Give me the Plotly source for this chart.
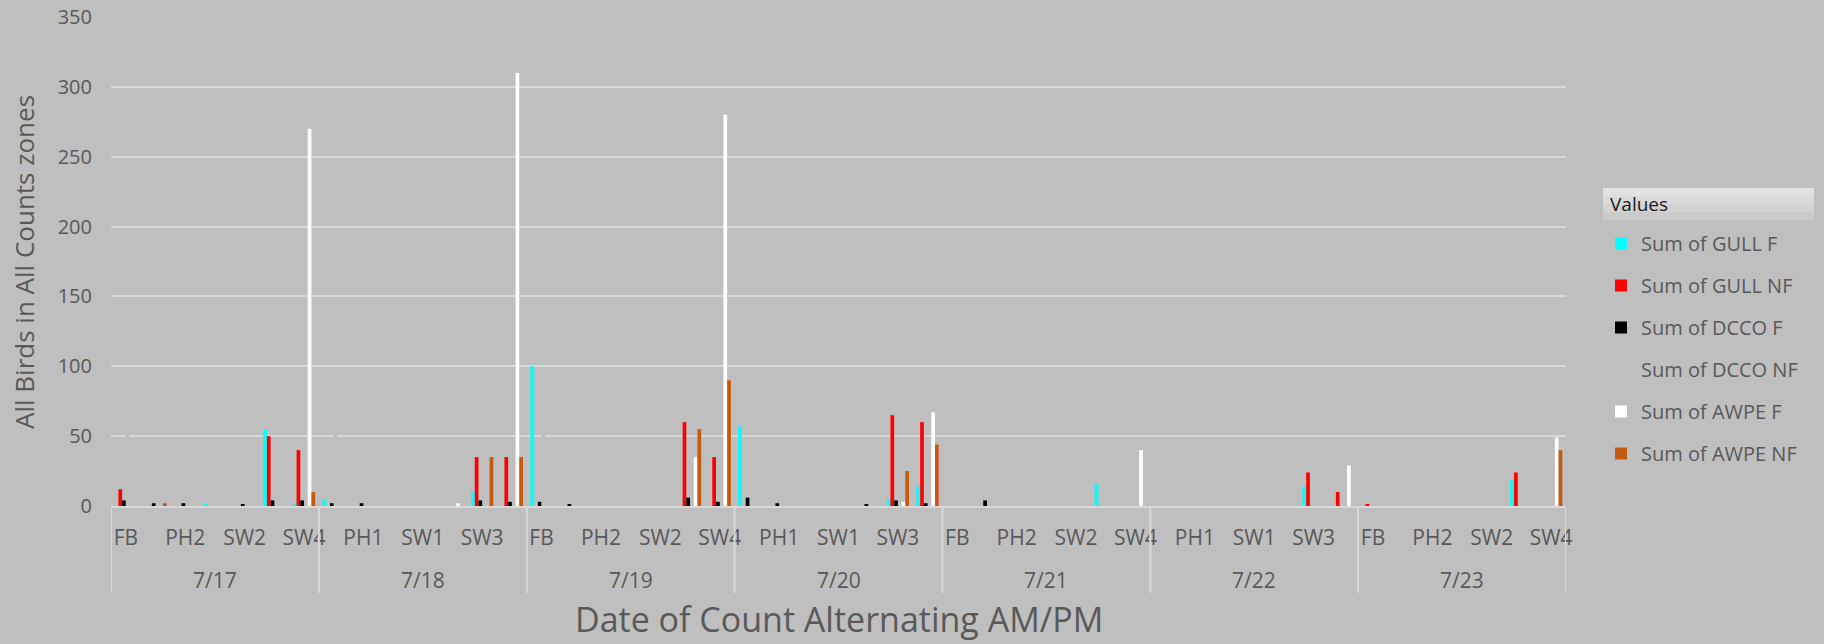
import plotly.graph_objects as go

dates = ["7/17", "7/18", "7/19", "7/20", "7/21", "7/22", "7/23"]
zones = ["FB", "PH1", "PH2", "SW1", "SW2", "SW3", "SW4"]

# one value per (date, zone), in date-major order (49 categories)
gull_f = [0, 0, 0, 1, 0, 55, 2,
          5, 0, 0, 0, 0, 10, 0,
          100, 0, 0, 0, 0, 0, 0,
          57, 0, 0, 0, 0, 5, 14,
          0, 0, 0, 0, 0, 16, 0,
          0, 0, 0, 0, 0, 14, 0,
          0, 0, 0, 0, 0, 19, 0]
gull_nf = [12, 0, 0, 0, 0, 50, 40,
           0, 0, 0, 0, 0, 35, 35,
           0, 0, 0, 0, 0, 60, 35,
           0, 0, 0, 0, 0, 65, 60,
           0, 0, 0, 0, 0, 0, 0,
           0, 0, 0, 0, 0, 24, 10,
           1, 0, 0, 0, 0, 24, 0]
dcco_f = [4, 2, 2, 0, 1, 4, 4,
          2, 2, 0, 0, 0, 4, 3,
          3, 1, 0, 0, 0, 6, 3,
          6, 2, 0, 0, 1, 4, 2,
          0, 4, 0, 0, 0, 0, 0,
          0, 0, 0, 0, 0, 0, 0,
          0, 0, 0, 0, 0, 0, 0]
dcco_nf = [60, 0, 0, 0, 0, 0, 0,
           55, 0, 0, 0, 0, 0, 0,
           55, 0, 0, 0, 0, 0, 0,
           0, 0, 0, 0, 0, 0, 0,
           0, 0, 0, 0, 0, 0, 0,
           0, 0, 0, 0, 0, 0, 0,
           0, 0, 0, 0, 0, 0, 0]
awpe_f = [0, 0, 0, 0, 0, 0, 270,
          0, 0, 0, 0, 2, 0, 310,
          0, 0, 0, 0, 0, 35, 280,
          0, 0, 0, 0, 0, 3, 67,
          0, 0, 0, 0, 0, 0, 40,
          0, 0, 0, 0, 0, 0, 29,
          0, 0, 0, 0, 0, 0, 49]
awpe_nf = [0, 2, 0, 0, 0, 0, 10,
           0, 0, 0, 0, 0, 35, 35,
           0, 0, 0, 0, 0, 55, 90,
           0, 0, 0, 0, 0, 25, 44,
           0, 0, 0, 0, 0, 0, 0,
           0, 0, 0, 0, 0, 0, 0,
           0, 0, 0, 0, 0, 0, 40]

series_names = ["Sum of GULL F", "Sum of GULL NF", "Sum of DCCO F",
                "Sum of DCCO NF", "Sum of AWPE F", "Sum of AWPE NF"]
series_vals = [gull_f, gull_nf, dcco_f, dcco_nf, awpe_f, awpe_nf]

BG = "#BFBFBF"
GRID = "#D9D9D9"
TXT = "#595959"
colors = ["#00FFFF", "#FF0000", "#000000", BG, "#FFFFFF", "#C55A11"]
FONT = "Open Sans"

n_cat = len(dates) * len(zones)
xs = list(range(n_cat))
cat_zone = [zones[i % len(zones)] for i in xs]

fig = go.Figure()
for k, (name, vals) in enumerate(zip(series_names, series_vals)):
    fig.add_trace(go.Bar(x=xs, y=vals, name=name, legendgroup=name,
                         marker=dict(color=colors[k], line=dict(width=0))))

# plot area pixel geometry
L, R, T, B = 111, 1566, 17, 506
W, H = 1824, 644
ph = B - T
pw = R - L

def py(p):
    return (B - p) / ph

def px(p):
    return (p - L) / pw

shapes = []
nz = len(zones)
for k in range(len(dates) + 1):
    shapes.append(dict(type="line", xref="x", yref="paper",
                       x0=k * nz - 0.5, x1=k * nz - 0.5, y0=0, y1=py(593),
                       line=dict(color=GRID, width=2)))
# legend header background (fading downward)
hdr_cols = ["#E1E1E1", "#DADADA", "#D3D3D3", "#CBCBCB"]
for j, c in enumerate(hdr_cols):
    shapes.append(dict(type="rect", xref="paper", yref="paper", layer="below",
                       x0=px(1603), x1=px(1814), y0=py(188 + 8 * (j + 1)), y1=py(188 + 8 * j),
                       fillcolor=c, line=dict(width=0)))

annotations = []
for k, d in enumerate(dates):
    annotations.append(dict(text=d, x=k * nz + (nz - 1) / 2, xref="x", y=py(580), yref="paper",
                            showarrow=False, xanchor="center", yanchor="middle",
                            font=dict(family=FONT, size=21, color=TXT)))
annotations.append(dict(text="Date of Count Alternating AM/PM", x=0.5, xref="paper",
                        y=py(619), yref="paper", showarrow=False, xanchor="center",
                        yanchor="middle", font=dict(family=FONT, size=34, color=TXT)))
annotations.append(dict(text="All Birds in All Counts zones", x=px(24), xref="paper",
                        y=py(262), yref="paper", showarrow=False, textangle=-90,
                        xanchor="center", yanchor="middle",
                        font=dict(family=FONT, size=26, color=TXT)))
annotations.append(dict(text="Values", x=px(1608), xref="paper", y=py(204), yref="paper",
                        showarrow=False, xanchor="left", yanchor="middle",
                        font=dict(family=FONT, size=19, color="#1A1A1A")))

fig.update_layout(
    width=W, height=H,
    margin=dict(l=L, r=W - R, t=T, b=H - B, autoexpand=False),
    paper_bgcolor=BG, plot_bgcolor=BG,
    barmode="group", bargap=0.25, bargroupgap=0,
    font=dict(family=FONT, color=TXT),
    xaxis=dict(type="linear", range=[-0.5, n_cat - 0.5], tickvals=xs[::2],
               ticktext=cat_zone[::2], showgrid=False, zeroline=False,
               showline=True, linecolor=GRID, linewidth=2, ticks="",
               tickfont=dict(family=FONT, size=21, color=TXT), ticklabelstandoff=12,
               fixedrange=True),
    yaxis=dict(range=[0, 350], dtick=50, showgrid=True, gridcolor=GRID, gridwidth=2,
               zeroline=False, showline=False, ticks="",
               tickfont=dict(family=FONT, size=20, color=TXT), ticklabelstandoff=18,
               fixedrange=True),
    legend=dict(x=px(1601), y=py(224), xanchor="left", yanchor="top",
                bgcolor="rgba(0,0,0,0)", tracegroupgap=13, itemwidth=30,
                font=dict(family=FONT, size=20, color=TXT)),
    shapes=shapes, annotations=annotations,
)

fig.write_html("out.html",
               config={"displayModeBar": False},
               post_script="document.body.style.margin='0';"
                           "document.body.style.background='" + BG + "';")
